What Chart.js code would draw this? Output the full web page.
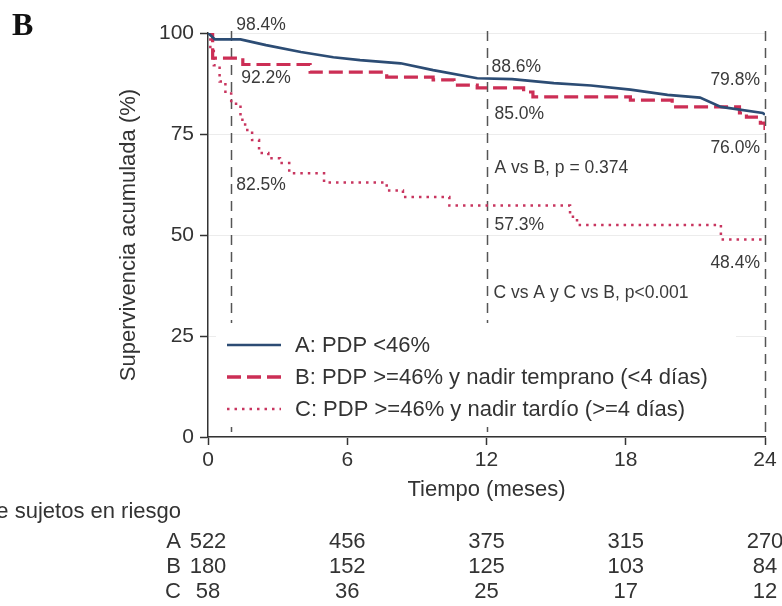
<!DOCTYPE html>
<html>
<head>
<meta charset="utf-8">
<script src="https://cdn.jsdelivr.net/npm/chart.js@4/dist/chart.umd.min.js"></script>
<style>
html,body{margin:0;padding:0;background:#fff;}
canvas{display:block;}
</style>
</head>
<body>
<canvas id="c" width="782" height="606"></canvas>
<script>
// ---- data ----
const seriesNames = ['A: PDP <46%', 'B: PDP >=46% y nadir temprano (<4 días)', 'C: PDP >=46% y nadir tardío (>=4 días)'];
const aMonths = [0, 0.3, 1.4, 2.5, 4.0, 5.4, 6.55, 8.3, 9.7, 11.6, 13.1, 14.9, 16.5, 18.2, 19.8, 21.2, 22.1, 23.9, 24];
const aValues = [100, 98.4, 98.4, 97.0, 95.3, 94.0, 93.3, 92.5, 90.8, 88.8, 88.6, 87.6, 87.0, 86.0, 84.7, 84.0, 81.7, 80.2, 79.8];
const bMonths = [0, 0.2, 1.5, 4.4, 7.7, 9.7, 10.6, 11.6, 13.6, 14.0, 18.2, 20.0, 22.9, 23.2, 23.8, 24];
const bValues = [100, 93.8, 92.2, 90.3, 89.1, 88.4, 87.1, 86.4, 85.4, 84.2, 83.4, 81.7, 80.2, 79.2, 77.7, 76.0];
const cMonths = [0, 0.1, 0.25, 0.5, 0.75, 1.0, 1.4, 1.6, 1.9, 2.2, 2.6, 3.1, 3.5, 5.0, 7.7, 8.4, 10.4, 15.6, 15.9, 22.1, 24];
const cValues = [100, 96, 92, 88, 85, 82.5, 78.5, 76, 73.5, 70.3, 69, 67.8, 65.3, 63, 61, 59.4, 57.3, 54.5, 52.5, 48.9, 48.9];
const xTicks = [0, 6, 12, 18, 24];
const yTicks = [0, 25, 50, 75, 100];
const markerMonths = [1, 12, 24];
const annotationTexts = ['98.4%', '92.2%', '82.5%', '88.6%', '85.0%', 'A vs B, p = 0.374', '57.3%', 'C vs A y C vs B, p<0.001', '79.8%', '76.0%', '48.4%'];
const riskGroups = ['A', 'B', 'C'];
const riskA = [522, 456, 375, 315, 270];
const riskB = [180, 152, 125, 103, 84];
const riskC = [58, 36, 25, 17, 12];
const riskTitle = 'Nº de sujetos en riesgo';
const xTitle = 'Tiempo (meses)';
const yTitle = 'Supervivencia acumulada (%)';
const panelLabel = 'B';

// ---- layout / style ----
const FONT = '"Liberation Sans", Arial, Helvetica, sans-serif';
const colA = '#2c4c74', colB = '#cc2e55', colC = '#c8355f';
// annotation anchors: [month, dx px, percent, align]
const annotLayout = [
  [1, 5, 102.0, 'left'], [1, 10, 88.9, 'left'], [1, 5, 62.4, 'left'],
  [12, 5, 91.6, 'left'], [12, 8, 80.0, 'left'], [12, 8, 66.6, 'left'],
  [12, 8, 52.5, 'left'], [12, 7, 35.6, 'left'],
  [24, -5, 88.4, 'right'], [24, -5, 71.5, 'right'], [24, -5, 43.1, 'right']
];

const toXY = (xs, ys) => xs.map((x, i) => ({x: x, y: ys[i]}));

const decor = {
  id: 'decor',
  beforeDraw(chart) {
    const ctx = chart.ctx;
    ctx.save();
    ctx.fillStyle = '#fff';
    ctx.fillRect(0, 0, chart.width, chart.height);
    ctx.restore();
  },
  beforeDatasetsDraw(chart) {
    const ctx = chart.ctx, xs = chart.scales.x, ys = chart.scales.y;
    ctx.save();
    ctx.strokeStyle = '#555';
    ctx.lineWidth = 1.5;
    ctx.setLineDash([10, 7]);
    markerMonths.forEach(m => {
      const px = Math.round(xs.getPixelForValue(m)) + 0.5;
      ctx.beginPath();
      ctx.moveTo(px, ys.getPixelForValue(100) - 2);
      ctx.lineTo(px, ys.getPixelForValue(0));
      ctx.stroke();
    });
    ctx.restore();
  },
  afterDraw(chart) {
    const ctx = chart.ctx, xs = chart.scales.x, ys = chart.scales.y, ca = chart.chartArea;
    ctx.save();
    // annotations
    ctx.fillStyle = '#3a3a3a';
    ctx.font = '17.5px ' + FONT;
    ctx.textBaseline = 'middle';
    annotationTexts.forEach((t, i) => {
      const L = annotLayout[i];
      ctx.textAlign = L[3];
      ctx.fillText(t, xs.getPixelForValue(L[0]) + L[1], ys.getPixelForValue(L[2]));
    });
    // legend (white box hides the reference lines behind it)
    const legendRows = [ca.bottom - 92, ca.bottom - 60, ca.bottom - 28];
    ctx.fillStyle = '#fff';
    ctx.fillRect(ca.left + 8, ca.bottom - 114, 520, 104);
    const styles = [
      {c: colA, w: 2.5, d: []},
      {c: colB, w: 3.5, d: [14, 6]},
      {c: colC, w: 2.5, d: [2.5, 5]}
    ];
    ctx.font = '22px ' + FONT;
    ctx.textAlign = 'left';
    seriesNames.forEach((n, i) => {
      const y = legendRows[i];
      ctx.save();
      ctx.strokeStyle = styles[i].c;
      ctx.lineWidth = styles[i].w;
      ctx.setLineDash(styles[i].d);
      ctx.beginPath();
      ctx.moveTo(ca.left + 19, y);
      ctx.lineTo(ca.left + 73, y);
      ctx.stroke();
      ctx.restore();
      ctx.fillStyle = '#333';
      ctx.fillText(n, ca.left + 87, y + 1);
    });
    // axis titles
    ctx.fillStyle = '#333';
    ctx.font = '22px ' + FONT;
    ctx.textAlign = 'center';
    ctx.textBaseline = 'alphabetic';
    ctx.fillText(xTitle, xs.getPixelForValue(12), 496);
    ctx.save();
    ctx.translate(135, 235);
    ctx.rotate(-Math.PI / 2);
    ctx.fillText(yTitle, 0, 0);
    ctx.restore();
    // panel label
    ctx.fillStyle = '#111';
    ctx.font = 'bold 32px "Liberation Serif", "Times New Roman", serif';
    ctx.textAlign = 'left';
    ctx.fillText(panelLabel, 12, 35);
    // risk table
    ctx.fillStyle = '#333';
    ctx.font = '22px ' + FONT;
    ctx.textAlign = 'right';
    ctx.fillText(riskTitle, 181, 518);
    const rows = [riskA, riskB, riskC];
    const baselines = [548, 573, 598];
    rows.forEach((r, i) => {
      ctx.textAlign = 'right';
      ctx.fillText(riskGroups[i], xs.getPixelForValue(0) - 27, baselines[i]);
      ctx.textAlign = 'center';
      r.forEach((v, j) => ctx.fillText(String(v), xs.getPixelForValue(xTicks[j]), baselines[i]));
    });
    ctx.restore();
  }
};

new Chart(document.getElementById('c'), {
  type: 'line',
  data: {
    datasets: [
      {label: seriesNames[0], data: toXY(aMonths, aValues), borderColor: colA, borderWidth: 2.7, stepped: false, tension: 0, pointRadius: 0, fill: false},
      {label: seriesNames[1], data: toXY(bMonths, bValues), borderColor: colB, borderWidth: 3.2, borderDash: [14, 6], stepped: true, pointRadius: 0, fill: false},
      {label: seriesNames[2], data: toXY(cMonths, cValues), borderColor: colC, borderWidth: 2.5, borderDash: [2.5, 5], stepped: true, pointRadius: 0, fill: false}
    ]
  },
  options: {
    responsive: false,
    animation: false,
    layout: {padding: {left: 0, right: 17, top: 33, bottom: 0}},
    plugins: {legend: {display: false}, tooltip: {enabled: false}},
    scales: {
      x: {
        type: 'linear', min: 0, max: 24,
        afterBuildTicks: s => { s.ticks = xTicks.map(v => ({value: v})); },
        afterFit: s => { s.height = 169; },
        grid: {drawOnChartArea: false, tickLength: 8, tickColor: '#333', tickWidth: 1.5},
        border: {color: '#333', width: 1.5},
        ticks: {color: '#333', font: {family: FONT, size: 21}, padding: 3, maxRotation: 0}
      },
      y: {
        min: 0, max: 100,
        afterBuildTicks: s => { s.ticks = yTicks.map(v => ({value: v})); },
        afterFit: s => { s.width = 208; },
        grid: {color: '#ececec', lineWidth: 1, tickLength: 8, tickColor: '#333', tickWidth: 1.5},
        border: {color: '#333', width: 1.5},
        ticks: {color: '#333', font: {family: FONT, size: 21}, padding: 6}
      }
    }
  },
  plugins: [decor]
});
</script>
</body>
</html>
